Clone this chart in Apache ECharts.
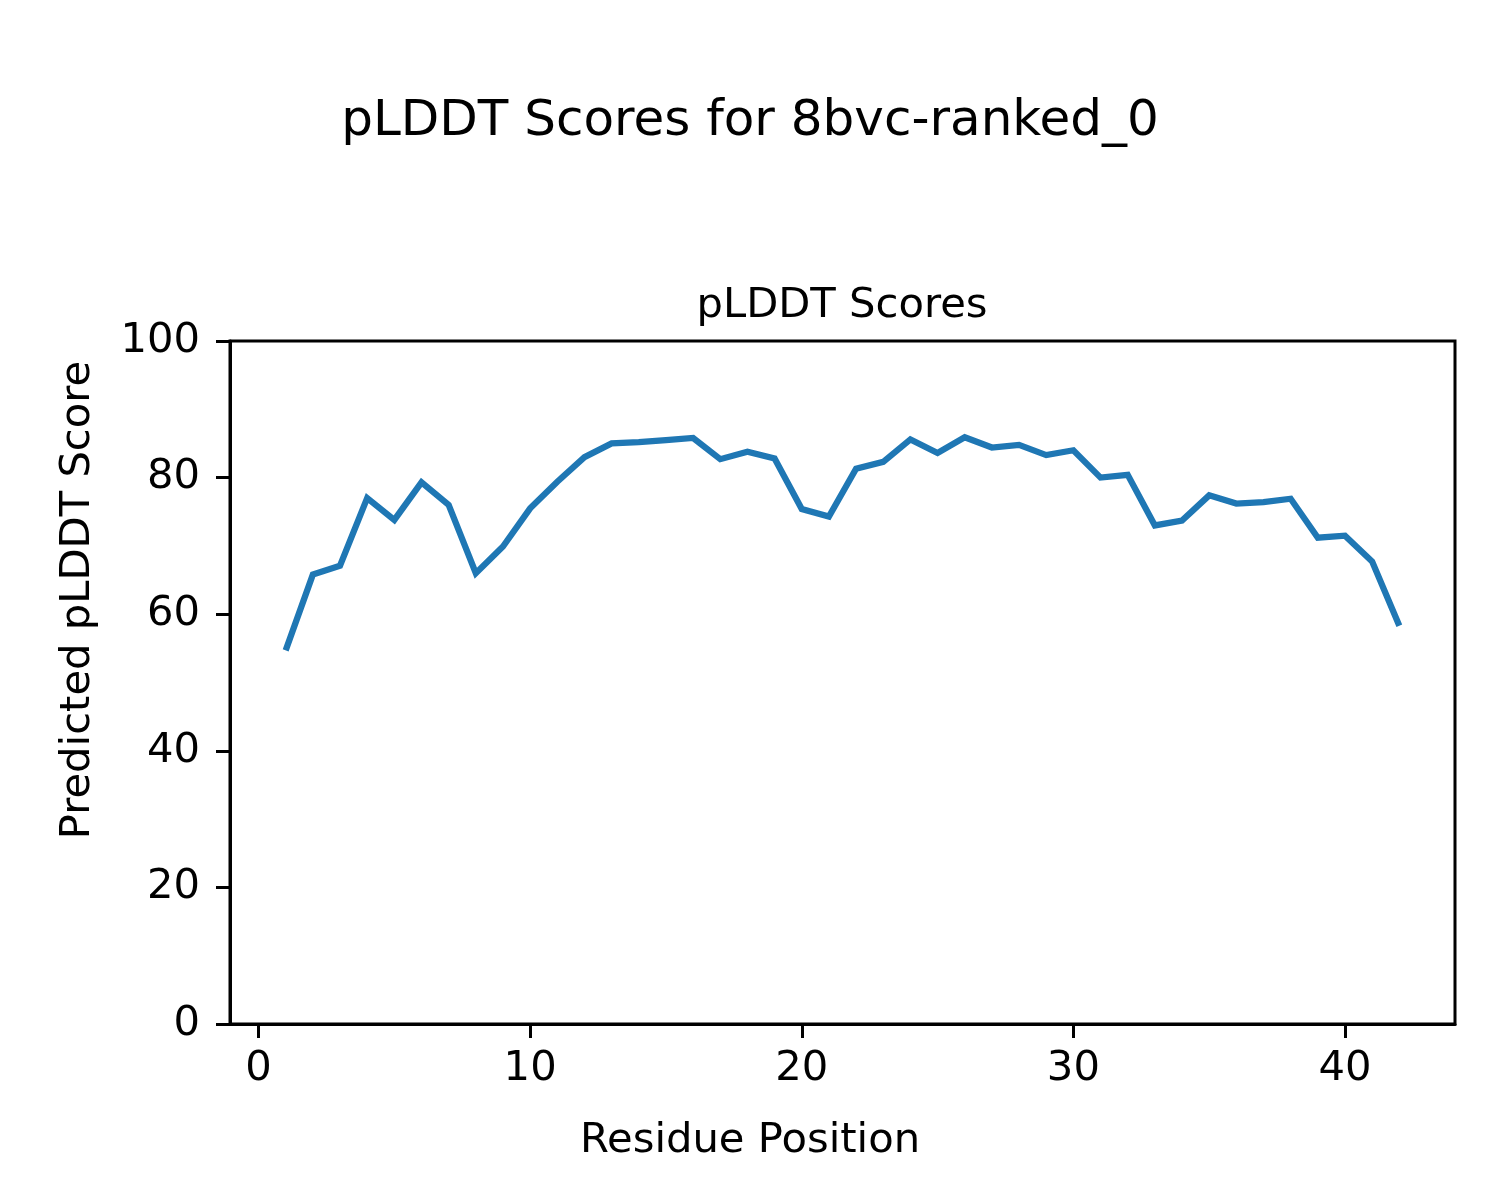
<!DOCTYPE html>
<html>
<head>
<meta charset="utf-8">
<script src="https://cdn.jsdelivr.net/npm/echarts@6/dist/echarts.min.js"></script>
<style>
html,body{margin:0;padding:0;background:#fff;}
#chart{width:1500px;height:1200px;}
</style>
</head>
<body>
<div id="chart"></div>
<script>
const residues = [1,2,3,4,5,6,7,8,9,10,11,12,13,14,15,16,17,18,19,20,21,22,23,24,25,26,27,28,29,30,31,32,33,34,35,36,37,38,39,40,41,42];
const plddt = [54.7,65.8,67.1,77.0,73.8,79.3,76.0,66.0,69.9,75.5,79.4,83.0,85.0,85.2,85.5,85.8,82.7,83.8,82.8,75.4,74.3,81.3,82.3,85.6,83.6,85.9,84.4,84.8,83.3,84.0,80.0,80.4,73.0,73.7,77.4,76.2,76.4,76.9,71.2,71.5,67.7,58.3];
const xTicks = [0,10,20,30,40];
const yTicks = [0,20,40,60,80,100];
const suptitle = 'pLDDT Scores for 8bvc-ranked_0';
const axTitle = 'pLDDT Scores';
const xName = 'Residue Position';
const yName = 'Predicted pLDDT Score';

const FONT = 'DejaVu Sans';
const chart = echarts.init(document.getElementById('chart'), null, {renderer:'canvas'});
const option = {
  animation: false,
  backgroundColor: '#fff',
  grid: {left:230, right:45, top:341, bottom:176, show:true, borderColor:'#000', borderWidth:3, backgroundColor:'transparent'},
  xAxis: {
    type:'value', min:-1.05, max:44.05,
    axisLine:{show:true, onZero:false, lineStyle:{color:'#000', width:3}},
    axisTick:{show:true, length:14, lineStyle:{color:'#000', width:3}, customValues:xTicks},
    axisLabel:{fontFamily:FONT, fontSize:41.7, color:'#000', margin:24, customValues:xTicks},
    splitLine:{show:false}
  },
  yAxis: {
    type:'value', min:0, max:100, interval:20,
    axisLine:{show:true, onZero:false, lineStyle:{color:'#000', width:3}},
    axisTick:{show:true, length:14, lineStyle:{color:'#000', width:3}, customValues:yTicks},
    axisLabel:{fontFamily:FONT, fontSize:41.7, color:'#000', margin:30, customValues:yTicks},
    splitLine:{show:false}
  },
  graphic: [
    {type:'text', x:750, y:122, style:{text:suptitle, fontFamily:FONT, fontSize:50, fill:'#000', align:'center', verticalAlign:'middle'}},
    {type:'text', x:842, y:306, style:{text:axTitle, fontFamily:FONT, fontSize:41.7, fill:'#000', align:'center', verticalAlign:'middle'}},
    {type:'text', x:750, y:1141, style:{text:xName, fontFamily:FONT, fontSize:41.7, fill:'#000', align:'center', verticalAlign:'middle'}},
    {type:'text', x:78, y:600, rotation:Math.PI/2, style:{text:yName, fontFamily:FONT, fontSize:41.7, fill:'#000', align:'center', verticalAlign:'middle'}}
  ],
  series: [{
    type:'line',
    data: residues.map((r,i)=>[r, plddt[i]]),
    showSymbol:false,
    lineStyle:{color:'#1f77b4', width:6.25, cap:'butt', join:'miter'},
    itemStyle:{color:'#1f77b4'}
  }]
};
chart.setOption(option);
</script>
</body>
</html>
